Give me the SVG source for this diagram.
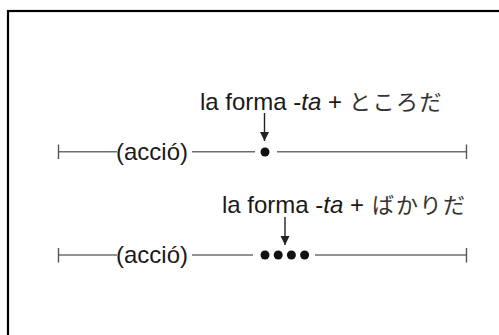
<svg xmlns="http://www.w3.org/2000/svg" width="499" height="335" viewBox="0 0 499 335">
<style>
.lbl{font-family:"Liberation Sans",Arial,sans-serif;font-size:24px;fill:#1a1a1a}
.jp{font-family:"Noto Sans CJK JP",sans-serif;font-size:22px;letter-spacing:1.5px;fill:#333}
.it{font-style:italic}
.ln{stroke:#6e6e6e;stroke-width:1.6;fill:none}
.tick{stroke:#555;stroke-width:1.4}
.arr{stroke:#222;stroke-width:1.4;fill:none}
.dot{fill:#111}
</style>
<defs>
<marker id="ah" markerWidth="11" markerHeight="10" refX="9" refY="5" orient="auto" markerUnits="userSpaceOnUse">
<path d="M0,0.5 L9,5 L0,9.5 Z" fill="#222"/>
</marker>
</defs>
<rect x="8" y="11" width="520" height="360" fill="none" stroke="#000" stroke-width="2.2"/>
<g id="connectors">
<line class="ln" x1="58" y1="151.7" x2="117" y2="151.7"/>
<line class="ln" x1="192" y1="151.7" x2="255" y2="151.7"/>
<line class="ln" x1="277" y1="151.7" x2="467" y2="151.7"/>
<line class="tick" x1="58.5" y1="144.5" x2="58.5" y2="159"/>
<line class="tick" x1="466.5" y1="144.5" x2="466.5" y2="159"/>
<line class="arr" x1="264.5" y1="113" x2="264.5" y2="141" marker-end="url(#ah)"/>
<line class="ln" x1="58" y1="255" x2="117" y2="255"/>
<line class="ln" x1="192" y1="255" x2="253" y2="255"/>
<line class="ln" x1="315" y1="255" x2="467" y2="255"/>
<line class="tick" x1="58.5" y1="248" x2="58.5" y2="262.5"/>
<line class="tick" x1="466.5" y1="248" x2="466.5" y2="262.5"/>
<line class="arr" x1="285" y1="217" x2="285" y2="245" marker-end="url(#ah)"/>
</g>
<g id="row1">
<text class="lbl" x="116" y="159.5">(acció)</text>
<circle class="dot" cx="265" cy="152" r="4.5"/>
<text class="lbl" x="200" y="110">la forma -<tspan class="it">ta</tspan> +</text>
<text class="jp" x="349" y="110">ところだ</text>
</g>
<g id="row2">
<text class="lbl" x="116" y="263">(acció)</text>
<circle class="dot" cx="265" cy="255" r="4.5"/>
<circle class="dot" cx="278.2" cy="255" r="4.5"/>
<circle class="dot" cx="291.4" cy="255" r="4.5"/>
<circle class="dot" cx="304.6" cy="255" r="4.5"/>
<text class="lbl" x="222" y="213">la forma -<tspan class="it">ta</tspan> +</text>
<text class="jp" x="372" y="213">ばかりだ</text>
</g>
</svg>
